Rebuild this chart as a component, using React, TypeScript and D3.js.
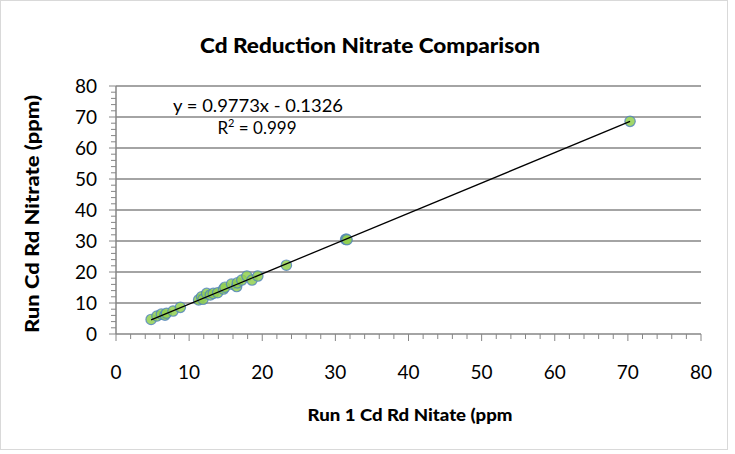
import React, { useEffect } from "react";
import * as d3 from "d3";

const run1: number[] = [4.8, 5.6, 6.2, 6.7, 6.9, 7.8, 8.8, 11.3, 11.7, 11.9, 12.4, 12.9, 13.3, 13.9, 14.7, 14.9, 15.8, 16.5, 16.6, 17.2, 17.9, 18.6, 19.4, 23.3, 31.4, 31.5, 31.6, 70.3];
const runCd: number[] = [4.7, 5.8, 6.4, 6.1, 6.7, 7.4, 8.6, 11.0, 12.0, 11.2, 13.1, 12.6, 13.1, 13.3, 14.5, 15.1, 16.1, 15.3, 16.5, 17.4, 18.7, 17.4, 18.7, 22.2, 30.5, 30.6, 30.4, 68.6];
const xTicks: number[] = [0, 10, 20, 30, 40, 50, 60, 70, 80];
const yTicks: number[] = [0, 10, 20, 30, 40, 50, 60, 70, 80];
const slope = 0.9773;
const intercept = -0.1326;
const title = "Cd Reduction Nitrate Comparison";
const xTitle = "Run 1 Cd Rd Nitate (ppm";
const yTitle = "Run Cd Rd Nitrate (ppm)";
const eqText = "y = 0.9773x - 0.1326";

const W = 735;
const H = 454;
const FONT = "Lato, 'Open Sans', sans-serif";

export default function App() {
  useEffect(() => {
    document.body.style.margin = "0";
  }, []);

  const x = d3.scaleLinear().domain([0, 80]).range([116, 701]);
  const y = d3.scaleLinear().domain([0, 80]).range([334, 86]);
  const minor = d3.range(0, 80.01, 2);
  const xmin = d3.min(run1) as number;
  const xmax = d3.max(run1) as number;
  const line = d3.line<number>().x((d) => x(d)).y((d) => y(slope * d + intercept));
  const grey = "#868686";

  return (
    <svg width={W} height={H} style={{ display: "block" }}>
      <rect x={0} y={0} width={W} height={H} fill="#fff" />
      <rect x={0.5} y={0.5} width={727} height={449} fill="none" stroke="#d9d9d9" />
      <text x={370} y={53} textAnchor="middle" fontFamily={FONT} fontWeight={900} fontSize={20} fill="#000" textLength={340} lengthAdjust="spacingAndGlyphs">{title}</text>
      {yTicks.slice(1).map((t) => (
        <line key={"g" + t} x1={x(0)} x2={x(80)} y1={y(t)} y2={y(t)} stroke={grey} strokeWidth={1.5} />
      ))}
      <line x1={x(0)} x2={x(0)} y1={y(0)} y2={y(80)} stroke={grey} strokeWidth={1.5} />
      <line x1={x(0)} x2={x(80)} y1={y(0)} y2={y(0)} stroke={grey} strokeWidth={1.5} />
      {minor.map((t) => (
        <g key={"m" + t}>
          <line x1={x(0) - (t % 10 === 0 ? 7 : 5)} x2={x(0)} y1={y(t)} y2={y(t)} stroke={grey} strokeWidth={1} />
          <line x1={x(t)} x2={x(t)} y1={y(0)} y2={y(0) + (t % 10 === 0 ? 7 : 5)} stroke={grey} strokeWidth={1} />
        </g>
      ))}
      {yTicks.map((t) => (
        <text key={"yl" + t} x={97} y={y(t) + 7} textAnchor="end" fontFamily={FONT} fontSize={19} fill="#000">{t}</text>
      ))}
      {xTicks.map((t) => (
        <text key={"xl" + t} x={x(t)} y={379} textAnchor="middle" fontFamily={FONT} fontSize={19} fill="#000">{t}</text>
      ))}
      <text x={410} y={421} textAnchor="middle" fontFamily={FONT} fontWeight={900} fontSize={16} fill="#000" textLength={205} lengthAdjust="spacingAndGlyphs">{xTitle}</text>
      <text transform={`translate(39,${214}) rotate(-90)`} textAnchor="middle" fontFamily={FONT} fontWeight={900} fontSize={18} fill="#000" textLength={238} lengthAdjust="spacingAndGlyphs">{yTitle}</text>
      {run1.map((v, i) => (
        <circle key={"p" + i} cx={x(v)} cy={y(runCd[i])} r={5.2} fill="#92D050" fillOpacity={0.85} stroke="#4F81BD" strokeOpacity={0.8} strokeWidth={1.2} />
      ))}
      <path d={line([xmin, xmax]) || ""} stroke="#000" strokeWidth={1.3} fill="none" />
      <text x={258} y={112} textAnchor="middle" fontFamily={FONT} fontSize={17} fill="#000" textLength={170} lengthAdjust="spacingAndGlyphs">{eqText}</text>
      <text x={257} y={134} textAnchor="middle" fontFamily={FONT} fontSize={17} fill="#000">R<tspan dy={-7} fontSize={11}>2</tspan><tspan dy={7}> = 0.999</tspan></text>
    </svg>
  );
}
